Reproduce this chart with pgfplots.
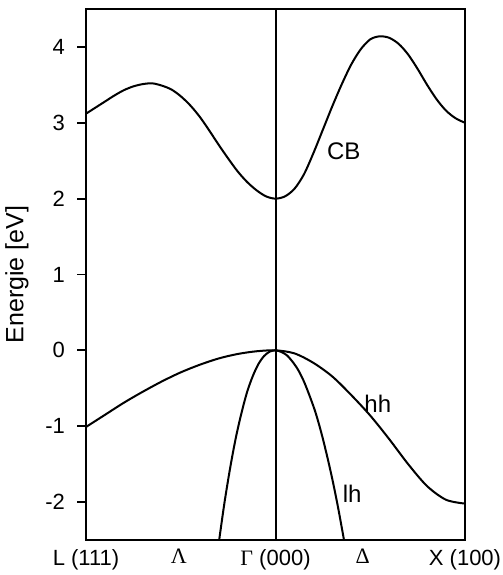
\documentclass[border=0pt]{standalone}
\usepackage{pgfplots}
\pgfplotsset{compat=1.18}
\usepackage{fontspec}
\setmainfont{Liberation Sans}
\newfontfamily\grk{Liberation Serif}
\begin{document}
\begin{tikzpicture}
\begin{axis}[
    scale only axis,
    width=189.5pt,
    height=265.5pt,
    xmin=-1, xmax=1,
    ymin=-2.5, ymax=4.5,
    axis line style={line width=0.9pt},
    xtick={-1,-0.51,0,0.46,1},
    xticklabels={L (111),{\grk Λ},{{\grk Γ} (000)},{\grk Δ},X (100)},
    x tick style={draw=none},
    ytick={-2,-1,0,1,2,3,4},
    ytick pos=left,
    tick align=outside,
    major tick length=4.5pt,
    y tick style={line width=0.9pt, black},
    tick label style={font=\fontsize{11}{13}\selectfont},
    /pgf/number format/assume math mode=true,
    yticklabel style={xshift=-2.5pt},
    xticklabel style={yshift=3.5pt},
    ylabel={Energie [eV]},
    every axis y label/.style={at={(axis description cs:-0.182,0.5)},
        rotate=90, anchor=center, font=\fontsize{12.5}{14}\selectfont},
]
% vertical line at Gamma
\addplot[black, line width=1pt] coordinates {(0,-2.5) (0,4.5)};
% conduction band
\addplot[black, line width=1pt, smooth] coordinates {
  (-1,3.12) (-0.95,3.20) (-0.9,3.28) (-0.85,3.36) (-0.8,3.43)
  (-0.75,3.48) (-0.7,3.51) (-0.65,3.52) (-0.6,3.49) (-0.55,3.44)
  (-0.5,3.35) (-0.45,3.23) (-0.4,3.08) (-0.35,2.90) (-0.3,2.71)
  (-0.25,2.53) (-0.2,2.36) (-0.15,2.22) (-0.1,2.11) (-0.05,2.03)
  (0,2.0) (0.05,2.03) (0.1,2.13) (0.15,2.32) (0.2,2.60)
  (0.25,2.91) (0.3,3.22) (0.35,3.51) (0.4,3.77) (0.45,3.97)
  (0.5,4.10) (0.55,4.14) (0.6,4.12) (0.65,4.04) (0.7,3.90)
  (0.75,3.71) (0.8,3.50) (0.85,3.31) (0.9,3.16) (0.95,3.06) (1,3.0)
};
% heavy holes
\addplot[black, line width=1pt, smooth] coordinates {
  (-1,-1.01) (-0.9,-0.85) (-0.8,-0.69) (-0.7,-0.545) (-0.6,-0.41)
  (-0.5,-0.29) (-0.4,-0.19) (-0.3,-0.107) (-0.2,-0.048) (-0.1,-0.012)
  (0,0) (0.1,-0.04) (0.2,-0.165) (0.3,-0.345) (0.4,-0.59)
  (0.5,-0.86) (0.6,-1.17) (0.7,-1.50) (0.8,-1.79) (0.9,-1.97) (1,-2.02)
};
% light holes
\addplot[black, line width=1pt, smooth] coordinates {
  (-0.3,-2.55) (-0.27,-2.02) (-0.24,-1.56) (-0.21,-1.16) (-0.18,-0.83)
  (-0.15,-0.55) (-0.12,-0.34) (-0.09,-0.18) (-0.06,-0.074) (-0.03,-0.016)
  (0,0) (0.03,-0.02) (0.06,-0.065) (0.09,-0.15) (0.12,-0.26)
  (0.15,-0.41) (0.18,-0.60) (0.21,-0.81) (0.24,-1.07) (0.27,-1.37)
  (0.30,-1.70) (0.33,-2.07) (0.36,-2.48) (0.37,-2.63)
};
\node[font=\fontsize{12}{14}\selectfont] at (axis cs:0.36,2.62) {CB};
\node[font=\fontsize{12}{14}\selectfont] at (axis cs:0.54,-0.70) {hh};
\node[font=\fontsize{12}{14}\selectfont] at (axis cs:0.405,-1.89) {lh};
\end{axis}
\pgfresetboundingbox
\path ([shift={(-43pt,-17.5pt)}]current axis.south west)
  rectangle ([shift={(18.5pt,4.5pt)}]current axis.north east);
\end{tikzpicture}
\end{document}
